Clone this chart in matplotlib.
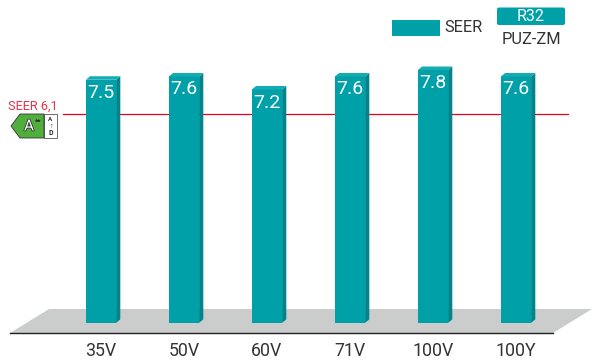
import matplotlib
matplotlib.use("Agg")
import matplotlib.pyplot as plt
import matplotlib.patheffects as pe
from matplotlib.patches import Polygon, Rectangle, FancyBboxPatch

plt.rcParams['font.family'] = ['Roboto', 'Liberation Sans', 'DejaVu Sans']

models = ['35V', '50V', '60V', '71V', '100V', '100Y']
seer = [7.5, 7.6, 7.2, 7.6, 7.8, 7.6]
bar_base = 0.02
# the red line is not to scale in the original, 6.44 is where it sits on the bar scale
seer_line = 6.44

TEAL = '#00a0a8'
SIDE = '#00858c'
TOP = '#14acb3'
RED = '#e8001c'
GREY = '#cbcccc'
TXT = '#333333'

fig = plt.figure(figsize=(5.92, 3.6), dpi=100)

# overlay in pixels for the decorations
px = fig.add_axes([0, 0, 1, 1], zorder=1)
px.set_xlim(0, 592)
px.set_ylim(360, 0)
px.axis('off')

# floor
px.add_patch(Polygon([(10, 333), (49, 309), (592, 309), (553, 333)], color=GREY, lw=0))
px.plot([10, 553], [333, 333], color='#222222', lw=1.0)

# bars axes, 83px between bars, 32.5px per seer unit
ax = fig.add_axes([0, 0, 1, 1], zorder=2)
ax.patch.set_alpha(0)
ax.set_xlim(-101 / 83, (592 - 101) / 83)
ax.set_ylim(7.8 - (360 - 70) / 32.5, 7.8 + 70 / 32.5)
ax.axis('off')

dx = 4.2 / 83
dy = 3.5 / 32.5
w = 30.2 / 83

ax.plot([-0.46, 5.63], [seer_line, seer_line], color=RED, lw=0.9, zorder=1)

for i, v in enumerate(seer):
    l, r = i - w / 2, i + w / 2
    ax.add_patch(Rectangle((l, bar_base), w, v - bar_base, color=TEAL, lw=0, zorder=3))
    ax.add_patch(Polygon([(r, bar_base), (r + dx, bar_base + dy), (r + dx, v + dy), (r, v)],
                         color=SIDE, lw=0, zorder=3))
    ax.add_patch(Polygon([(l, v), (l + dx, v + dy), (r + dx, v + dy), (r, v)],
                         color=TOP, lw=0, zorder=3))
    ax.text(i, v - 0.4, str(v), color='white', fontsize=14, ha='center', va='center', zorder=4)
    ax.text(i, -0.86, models[i], color=TXT, fontsize=12.8, ha='center', va='center')

# legend
px.add_patch(Rectangle((392, 20), 48, 16, color=TEAL, lw=0))
px.text(444, 28, 'SEER', color=TXT, fontsize=11.8, ha='left', va='center')
px.add_patch(FancyBboxPatch((497, 7.5), 68, 17.5, boxstyle='round,pad=0,rounding_size=2', color=TEAL, lw=0))
px.text(531, 16.5, 'R32', color='white', fontsize=11.5, ha='center', va='center')
px.text(531, 39.5, 'PUZ-ZM', color=TXT, fontsize=11.8, ha='center', va='center')

# energy label
px.text(33, 106.5, 'SEER 6,1', color='#ee3048', fontsize=9.2, ha='center', va='center')
px.add_patch(Rectangle((44, 114), 13, 24, facecolor='white', edgecolor='#555555', lw=0.6))
px.add_patch(Polygon([(11, 126), (20, 114), (44, 114), (44, 138), (20, 138)],
                     facecolor='#4fae3c', edgecolor='#333333', lw=0.6))
px.text(29, 126.5, 'A', color='white', fontsize=11, ha='center', va='center',
        path_effects=[pe.withStroke(linewidth=1.2, foreground='#333333')])
px.text(38, 122, '**', color='#222222', fontsize=5, ha='center', va='center', fontweight='bold')
px.text(50.5, 119.5, 'A', color='#222222', fontsize=4.5, ha='center', va='center', fontweight='bold')
px.text(50.5, 126, '↑', color='#222222', fontsize=5, ha='center', va='center')
px.text(50.5, 133, 'D', color='#222222', fontsize=5, ha='center', va='center', fontweight='bold')

fig.savefig('out.png', dpi=100)
